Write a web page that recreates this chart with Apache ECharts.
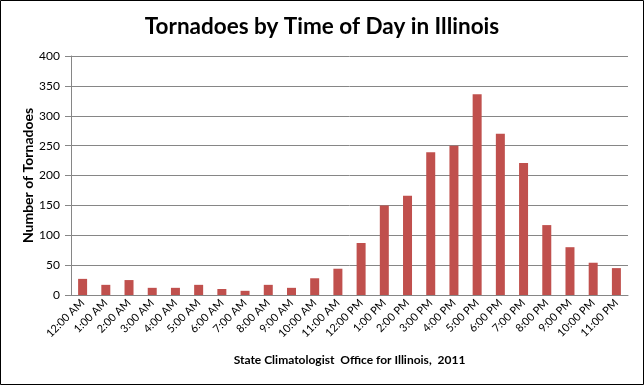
<!DOCTYPE html>
<html><head><meta charset="utf-8">
<script src="https://cdn.jsdelivr.net/npm/echarts@6/dist/echarts.min.js"></script>
<style>html,body{margin:0;padding:0;background:#fff}#c{width:644px;height:385px}</style>
</head><body><div id="c"></div>
<script>
const categories = ['12:00 AM','1:00 AM','2:00 AM','3:00 AM','4:00 AM','5:00 AM','6:00 AM','7:00 AM','8:00 AM','9:00 AM','10:00 AM','11:00 AM','12:00 PM','1:00 PM','2:00 PM','3:00 PM','4:00 PM','5:00 PM','6:00 PM','7:00 PM','8:00 PM','9:00 PM','10:00 PM','11:00 PM'];
const tornadoes = [27,17,25,12,12,17,10,7,17,12,28,44,87,150,166,239,250,336,270,221,117,80,54,45];
const yTicks = [0,50,100,150,200,250,300,350,400];

const chart = echarts.init(document.getElementById('c'));
const font = 'Lato, "Open Sans", sans-serif';
chart.setOption({
  animation:false,
  title:{text:'Tornadoes by Time of Day in Illinois',left:'center',top:10,
    textStyle:{fontFamily:font,fontSize:22.5,fontWeight:'bold',color:'#000'}},
  graphic:[{type:'rect',shape:{x:0.5,y:0.5,width:643,height:384},style:{fill:'none',stroke:'#000',lineWidth:1},silent:true}],
  grid:{left:71,right:16,top:56,bottom:90},
  xAxis:{type:'category',data:categories,
    name:'State Climatologist  Office for Illinois,  2011',nameLocation:'middle',nameGap:59,
    nameMoveOverlap:false,
    nameTextStyle:{fontFamily:font,fontSize:12,fontWeight:'bold',color:'#000'},
    axisLine:{lineStyle:{color:'#868686'}},axisTick:{show:false},
    axisLabel:{rotate:45,interval:0,fontFamily:font,fontSize:11,color:'#000',margin:6}},
  yAxis:{type:'value',min:0,max:400,interval:50,
    name:'Number of Tornadoes',nameLocation:'middle',nameGap:36,
    nameMoveOverlap:false,
    nameTextStyle:{fontFamily:font,fontSize:14,fontWeight:'bold',color:'#000'},
    axisLine:{show:true,lineStyle:{color:'#868686'}},
    axisTick:{show:true,length:6,lineStyle:{color:'#868686'}},
    axisLabel:{fontFamily:font,fontSize:12,color:'#000',margin:11,
      formatter:v=>yTicks.includes(v)?String(v):''},
    splitLine:{lineStyle:{color:'#868686'}}},
  series:[{type:'bar',data:tornadoes,barWidth:9,itemStyle:{color:'#C0504D'}}]
});
</script></body></html>
